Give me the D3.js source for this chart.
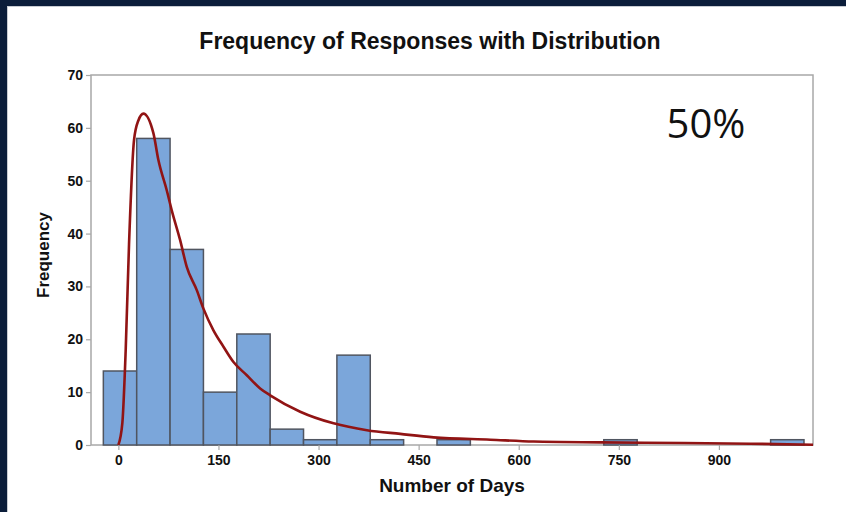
<!DOCTYPE html>
<html>
<head>
<meta charset="utf-8">
<script src="https://cdn.jsdelivr.net/npm/d3@7"></script>
<style>
  body { margin: 0; background: #ffffff; }
  svg { display: block; }
</style>
</head>
<body>
<svg id="chart" width="846" height="512"></svg>
<script>
// bins are 50 days wide, starting at -22.5
var binStarts = [-22.5, 27.5, 77.5, 127.5, 177.5, 227.5, 277.5, 327.5, 377.5, 427.5, 477.5,
                 527.5, 577.5, 627.5, 677.5, 727.5, 777.5, 827.5, 877.5, 927.5, 977.5];
var binCounts = [14, 58, 37, 10, 21, 3, 1, 17, 1, 0, 1,
                 0, 0, 0, 0, 1, 0, 0, 0, 0, 1];
var binWidth = 50;

// fitted distribution curve
var curveDays  = [0, 6, 11, 16, 23.5, 30, 37.5, 52.5, 60, 72.5, 80, 92.5, 102.5, 117.5, 127.5, 142.5,
                  157.5, 172.5, 192.5, 212.5, 227.5, 272.5, 322.5, 372.5, 422.5, 472.5, 557.5, 622.5,
                  722.5, 847.5, 947, 1041];
var curveFreq  = [0, 4.2, 18, 38, 57.7, 61.4, 62.7, 59, 53.9, 48.2, 44.4, 38.8, 33.7, 29.3, 25.8, 21.7,
                  18.6, 15.7, 13.2, 10.7, 9.4, 6.3, 4.1, 2.8, 2.1, 1.45, 1.0, 0.65,
                  0.5, 0.38, 0.25, 0.05];

var xTicks = [0, 150, 300, 450, 600, 750, 900];
var yTicks = [0, 10, 20, 30, 40, 50, 60, 70];

var svg = d3.select("#chart");
var plotL = 91, plotR = 813, plotT = 75, plotB = 445;

// navy frame at top and left
svg.append("rect").attr("x", 0).attr("y", 0).attr("width", 846).attr("height", 6).attr("fill", "#0b1d3a");
svg.append("rect").attr("x", 0).attr("y", 0).attr("width", 7).attr("height", 512).attr("fill", "#0b1d3a");
svg.append("line").attr("x1", 7).attr("x2", 846).attr("y1", 6.5).attr("y2", 6.5).attr("stroke", "#c8ccd2");
svg.append("line").attr("x1", 7.5).attr("x2", 7.5).attr("y1", 6).attr("y2", 512).attr("stroke", "#c8ccd2");

var x = d3.scaleLinear().domain([-41, 1041]).range([plotL, plotR]);
var y = d3.scaleLinear().domain([0, 70]).range([plotB, plotT]);

// plot box
svg.append("rect")
  .attr("x", plotL).attr("y", plotT)
  .attr("width", plotR - plotL).attr("height", plotB - plotT)
  .attr("fill", "none").attr("stroke", "#a8a8a8").attr("stroke-width", 1.5);

// bars
var bins = binStarts.map(function(s, i) { return { x0: s, n: binCounts[i] }; })
  .filter(function(d) { return d.n > 0; });

svg.append("g").selectAll("rect")
  .data(bins)
  .enter().append("rect")
  .attr("x", function(d) { return x(d.x0); })
  .attr("y", function(d) { return y(d.n); })
  .attr("width", function(d) { return x(d.x0 + binWidth) - x(d.x0); })
  .attr("height", function(d) { return y(0) - y(d.n); })
  .attr("fill", "#7ba6da")
  .attr("stroke", "#505560")
  .attr("stroke-width", 1.5);

// distribution curve
var pts = curveDays.map(function(d, i) { return [d, curveFreq[i]]; });
var line = d3.line()
  .x(function(d) { return x(d[0]); })
  .y(function(d) { return y(d[1]); })
  .curve(d3.curveMonotoneX);

svg.append("path")
  .datum(pts)
  .attr("d", line)
  .attr("fill", "none")
  .attr("stroke", "#911414")
  .attr("stroke-width", 2.6);

// axes
var xAxis = svg.append("g")
  .attr("transform", "translate(0," + plotB + ")")
  .call(d3.axisBottom(x).tickValues(xTicks).tickSize(5).tickSizeOuter(0).tickPadding(5));
var yAxis = svg.append("g")
  .attr("transform", "translate(" + plotL + ",0)")
  .call(d3.axisLeft(y).tickValues(yTicks).tickSize(5).tickSizeOuter(0).tickPadding(3));

[xAxis, yAxis].forEach(function(a) {
  a.select(".domain").remove();
  a.selectAll(".tick line").attr("stroke", "#a8a8a8").attr("stroke-width", 1.2);
  a.selectAll(".tick text")
    .attr("fill", "#111")
    .style("font-family", "'Liberation Sans', Arial, sans-serif")
    .style("font-weight", "bold")
    .style("font-size", "14px");
});

// texts
svg.append("text")
  .attr("x", 430).attr("y", 49)
  .attr("text-anchor", "middle")
  .style("font-family", "'Liberation Sans', Arial, sans-serif")
  .style("font-weight", "bold")
  .style("font-size", "23px")
  .attr("fill", "#111")
  .text("Frequency of Responses with Distribution");

svg.append("text")
  .attr("x", 452).attr("y", 492)
  .attr("text-anchor", "middle")
  .style("font-family", "'Liberation Sans', Arial, sans-serif")
  .style("font-weight", "bold")
  .style("font-size", "19px")
  .attr("fill", "#111")
  .text("Number of Days");

svg.append("text")
  .attr("transform", "translate(49,255) rotate(-90)")
  .attr("text-anchor", "middle")
  .style("font-family", "'Liberation Sans', Arial, sans-serif")
  .style("font-weight", "bold")
  .style("font-size", "17px")
  .attr("fill", "#111")
  .text("Frequency");

svg.append("text")
  .attr("x", 706).attr("y", 138)
  .attr("text-anchor", "middle")
  .style("font-family", "'Open Sans', 'Noto Sans', sans-serif")
  .style("font-size", "40px")
  .attr("fill", "#111")
  .text("50%");
</script>
</body>
</html>
